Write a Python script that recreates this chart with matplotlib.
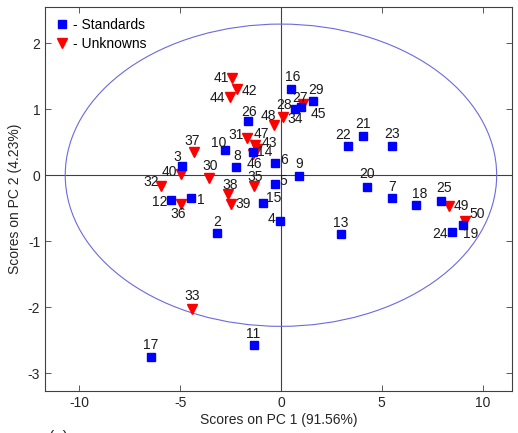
import matplotlib
matplotlib.use("Agg")
import matplotlib.pyplot as plt
import numpy as np
from matplotlib.patches import Ellipse

plt.rcParams['font.family'] = ['Liberation Sans', 'DejaVu Sans']
plt.rcParams['axes.unicode_minus'] = False

# ---- data ----
std_ids = list(range(1, 30))
std_x = [-4.45, -3.16, -4.89, -0.04, -0.29, -0.29, 5.49, -2.25, 0.88, -2.76,
         -1.35, -5.47, 2.98, -1.40, -0.90, 0.50, -6.46, 6.69, 9.03, 4.27,
         4.05, 3.34, 5.49, 8.47, 7.96, -1.63, 0.97, 0.72, 1.57]
std_y = [-0.35, -0.87, 0.14, -0.70, -0.13, 0.185, -0.34, 0.125, -0.01, 0.375,
         -2.58, -0.37, -0.89, 0.35, -0.42, 1.31, -2.75, -0.45, -0.75, -0.18,
         0.60, 0.44, 0.44, -0.86, -0.39, 0.815, 1.03, 1.01, 1.12]

unk_ids = list(range(30, 51))
unk_x = [-3.57, -1.69, -5.94, -4.40, 0.09, -1.36, -4.94, -4.29, -2.63, -2.47,
         -4.98, -2.43, -2.18, -1.21, -2.52, 1.08, -1.41, -1.29, -0.36, 8.34, 9.13]
unk_y = [-0.04, 0.57, -0.16, -2.03, 0.875, -0.17, -0.43, 0.35, -0.28, -0.43,
         0.02, 1.47, 1.31, 0.40, 1.18, 1.08, 0.325, 0.465, 0.76, -0.47, -0.70]

# confidence ellipse semi-axes
ell_a, ell_b = 10.7, 2.29

# label offsets in pixels (dx right, dy down)
label_off = {
    1: (10, 2), 2: (0, -11), 3: (-5, -9), 4: (-9, -2), 5: (8, -3), 6: (9, -3),
    7: (0, -11), 8: (2, -11), 9: (1, -12), 10: (-7, -7), 11: (-1, -11),
    12: (-11, 2), 13: (0, -11), 14: (12, 0), 15: (11, -5), 16: (2, -12),
    17: (0, -12), 18: (4, -11), 19: (8, 9), 20: (0, -13), 21: (0, -12),
    22: (-5, -11), 23: (0, -12), 24: (-12, 2), 25: (3, -13), 26: (1, -9),
    27: (0, -9), 28: (-11, -4), 29: (3, -11),
    30: (1, -12), 31: (-11, -3), 32: (-10, -4), 33: (0, -13), 34: (12, 2),
    35: (2, -9), 36: (-3, 10), 37: (-2, -11), 38: (2, -9), 39: (12, 0),
    40: (-11, -2), 41: (-11, 0), 42: (12, 2), 43: (13, -6), 44: (-13, 1),
    45: (16, 10), 46: (2, 10), 47: (6, -11), 48: (-5, -9), 49: (12, 0),
    50: (12, -7),
}

fig = plt.figure(figsize=(5.18, 4.33), dpi=100)
ax = fig.add_axes([0.087, 0.097, 0.901, 0.887])

ax.axhline(0, color='#404040', lw=0.8, zorder=1)
ax.axvline(0, color='#404040', lw=0.8, zorder=1)
ax.add_patch(Ellipse((0, 0), 2 * ell_a, 2 * ell_b, fill=False,
                     edgecolor='#6a6ade', lw=0.8, zorder=1))

ax.plot(unk_x, unk_y, linestyle='none', marker='v', markersize=6.5,
        color='#ff0000', zorder=2, label='- Unknowns')
ax.plot(std_x, std_y, linestyle='none', marker='s', markersize=6,
        color='#0000ff', zorder=3, label='- Standards')

for ids, xs, ys in ((std_ids, std_x, std_y), (unk_ids, unk_x, unk_y)):
    for i, x, y in zip(ids, xs, ys):
        dx, dy = label_off[i]
        ax.annotate(str(i), (x, y), xytext=(dx, -dy), textcoords='offset pixels',
                    ha='center', va='center', fontsize=10, color='#1a1a1a',
                    zorder=4)

ax.set_xlim(-11.7, 11.45)
ax.set_ylim(-3.27, 2.55)
ax.set_xticks([-10, -5, 0, 5, 10])
ax.set_yticks([-3, -2, -1, 0, 1, 2])
ax.tick_params(direction='in', top=True, right=True, length=4, width=0.6,
               colors='#404040', labelcolor='#262626', labelsize=10)
for s in ax.spines.values():
    s.set_color('#404040')
    s.set_linewidth(0.8)

ax.set_xlabel('Scores on PC 1 (91.56%)', fontsize=10, color='#262626', labelpad=2)
ax.set_ylabel('Scores on PC 2 (4.23%)', fontsize=10, color='#262626', labelpad=4)

h, l = ax.get_legend_handles_labels()
ax.legend(h[::-1], l[::-1], loc='upper left', frameon=False, fontsize=10,
          handlelength=0.8, handletextpad=0.4, borderaxespad=0.3,
          labelspacing=0.35, borderpad=0.5)

fig.text(0.095, 0.006, '(a)', fontsize=11, va='top', ha='left', color='#262626')

fig.savefig('out.png', dpi=100)
